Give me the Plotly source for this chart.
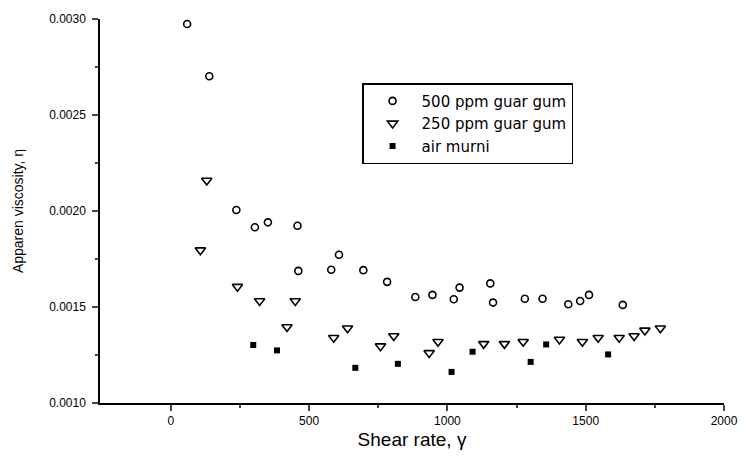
import plotly.graph_objects as go

gum500_x = [59, 139, 237, 304, 351, 458, 461, 580, 608, 696, 782, 884, 946, 1023, 1044, 1155, 1165, 1280, 1344, 1437, 1480, 1512, 1634]
gum500_y = [0.002974, 0.002702, 0.002005, 0.001915, 0.001941, 0.001923, 0.001688, 0.001694, 0.001772, 0.001692,
            0.001631, 0.001552, 0.001563, 0.001540, 0.001601, 0.001623, 0.001523, 0.001543, 0.001543, 0.001514,
            0.001531, 0.001563, 0.001511]

gum250_x = [107, 130, 241, 321, 420, 450, 589, 639, 758, 806, 934, 966, 1131, 1206, 1274, 1405, 1488, 1545, 1621, 1675, 1714, 1770]
gum250_y = [0.001796, 0.002159, 0.001606, 0.001531, 0.001396, 0.001531, 0.001340, 0.001389, 0.001296, 0.001349,
            0.001261, 0.001319, 0.001308, 0.001308, 0.001319, 0.001331, 0.001319, 0.001340, 0.001340, 0.001349,
            0.001378, 0.001389]

water_x = [298, 384, 667, 821, 1015, 1091, 1301, 1357, 1581]
water_y = [0.001302, 0.001274, 0.001183, 0.001204, 0.001162, 0.001267, 0.001214, 0.001305, 0.001253]

x_ticks = [0, 500, 1000, 1500, 2000]
y_ticks = [0.0010, 0.0015, 0.0020, 0.0025, 0.0030]
y_tick_text = ["0.0010", "0.0015", "0.0020", "0.0025", "0.0030"]

font = "Liberation Sans, Arial, sans-serif"

fig = go.Figure()
fig.add_trace(go.Scatter(x=gum500_x, y=gum500_y, mode="markers", name="500 ppm guar gum",
                         marker=dict(symbol="circle-open", size=7, color="black", line=dict(width=1.6))))
fig.add_trace(go.Scatter(x=gum250_x, y=gum250_y, mode="markers", name="250 ppm guar gum",
                         marker=dict(symbol="triangle-down-open", size=9, color="black", line=dict(width=1.6))))
fig.add_trace(go.Scatter(x=water_x, y=water_y, mode="markers", name="air murni",
                         marker=dict(symbol="square", size=6, color="black")))

# the page body adds an 8 px margin, so the figure is sized to fit inside the window
fig.update_layout(
    width=730, height=442,
    margin=dict(l=92, r=14, t=11, b=47),
    paper_bgcolor="white", plot_bgcolor="white",
    font=dict(family=font, color="black"),
    showlegend=True,
    legend=dict(x=0.42, y=0.833, xanchor="left", yanchor="top",
                bordercolor="black", borderwidth=1.5, bgcolor="white",
                font=dict(size=15, family="DejaVu Sans, sans-serif"), tracegroupgap=0,
                itemwidth=48),
    xaxis=dict(range=[-256, 2000], tickvals=x_ticks, ticks="outside", ticklen=6, tickwidth=1.5,
               showline=True, linecolor="black", linewidth=1.5, showgrid=False, zeroline=False,
               automargin=False, ticklabeloverflow="allow",
               tickfont=dict(size=12, family=font),
               minor=dict(tickvals=[250, 750, 1250, 1750], ticks="outside", ticklen=3, tickwidth=1.5),
               title=dict(text="Shear rate, γ", font=dict(size=19, family=font), standoff=15)),
    yaxis=dict(range=[0.0010, 0.0030], tickvals=y_ticks, ticktext=y_tick_text, ticks="outside", ticklen=6,
               tickwidth=1.5, showline=True, linecolor="black", linewidth=1.5, showgrid=False, zeroline=False,
               automargin=False, ticklabelstandoff=4,
               tickfont=dict(size=12, family=font),
               minor=dict(tickvals=[0.00125, 0.00175, 0.00225, 0.00275], ticks="outside", ticklen=3, tickwidth=1.5),
               title=dict(text="Apparen viscosity, η", font=dict(size=14, family=font), standoff=22)),
)

fig.write_html("out.html")
